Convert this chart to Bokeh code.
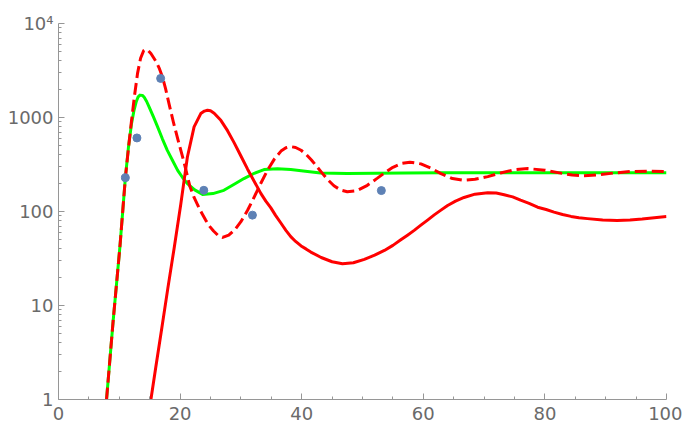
from bokeh.plotting import figure
from bokeh.models import FixedTicker
from bokeh.embed import file_html
from bokeh.resources import INLINE

# ---- data ----
green_x = [7.9, 9.0, 10.1, 11.0, 11.5, 12.0, 12.4, 12.8, 13.1, 13.4, 13.8, 14.1, 14.5,
           14.9, 15.6, 16.3, 17.1, 17.9, 18.8, 19.6, 20.4, 21.2, 22.4, 23.7, 25.4, 27.2,
           28.9, 30.5, 32.2, 33.8, 36.0, 38.2, 40.6, 43.1, 47.5, 52.0, 57.0, 63.0, 70.0,
           80.0, 90.0, 100.0]
green_y = [1, 7, 42, 229, 479, 851, 1175, 1480, 1660, 1730, 1718, 1640, 1480,
           1297, 1020, 794, 590, 447, 345, 274, 230, 198, 170, 152, 155, 168,
           195, 224, 255, 279, 285, 279, 268, 257, 253, 255, 257, 258, 259,
           258, 258, 258]

dash_x = [7.9, 9.0, 10.1, 11.0, 11.6, 12.0, 12.5, 13.0, 13.5, 14.0, 14.3, 14.7, 15.2,
          16.0, 16.6, 17.1, 17.6, 18.2, 18.9, 19.6, 20.7, 21.6, 22.3, 22.9, 23.6, 24.2,
          24.9, 25.5, 26.2, 27.0, 28.0, 29.0, 30.0, 31.1, 32.2, 33.3, 34.4, 35.5, 36.6,
          37.4, 38.2, 39.0, 39.9, 40.8, 41.6, 42.4, 43.2, 44.2, 45.3, 46.4, 47.5, 49.0,
          50.8, 52.4, 53.6, 55.0, 56.5, 57.8, 59.6, 61.2, 62.9, 64.8, 66.5, 68.5, 70.6,
          72.7, 75.0, 77.2, 80.0, 82.6, 84.5, 86.4, 89.0, 91.4, 94.0, 97.0, 100.0]
dash_y = [1, 7, 42, 229, 537, 912, 1700, 2950, 4270, 5130, 5300, 5190, 4790,
          3980, 3310, 2690, 2040, 1380, 890, 596, 324, 186, 141, 117, 95, 81,
          69, 62, 56, 53, 56, 64, 78, 103, 143, 201, 277, 361, 439,
          476, 490, 480, 448, 401, 353, 306, 264, 221, 188, 169, 162, 166,
          190, 225, 257, 295, 325, 335, 321, 290, 253, 224, 215, 220, 235,
          257, 278, 286, 275, 256, 244, 240, 246, 257, 266, 269, 266]

red_x = [15.2, 16.0, 17.0, 18.0, 19.0, 20.1, 21.2, 22.3, 23.4, 24.0, 24.5, 25.0, 25.6,
         26.7, 27.8, 28.9, 30.0, 31.1, 32.2, 33.3, 34.1, 34.9, 35.7, 36.6, 37.4, 38.2,
         39.0, 39.9, 40.7, 41.5, 43.2, 45.0, 46.7, 48.5, 50.3, 52.0, 53.6, 55.0, 56.3,
         57.4, 58.5, 59.6, 60.7, 61.8, 62.9, 64.0, 65.3, 66.7, 68.5, 70.6, 72.0, 73.3,
         74.7, 76.0, 77.4, 78.8, 80.2, 81.5, 82.9, 84.3, 85.6, 87.0, 89.5, 91.9, 94.0,
         96.0, 98.0, 100.0]
red_y = [1, 2.2, 5.8, 15.5, 40, 118, 380, 794, 1100, 1170, 1196, 1180, 1110,
         933, 724, 537, 389, 282, 209, 155, 129, 110, 91, 75, 63, 54,
         48, 43, 40, 37, 32.4, 29.2, 27.8, 28.5, 31, 34.3, 38.5, 43.6, 50,
         56, 63, 71.6, 81, 92, 103.5, 116, 129, 141, 153, 158.5, 157, 151,
         143, 132, 122, 111, 105, 98.6, 93, 88.7, 86, 84, 81, 80, 81,
         83, 85.7, 88.7]

pts_x = [11.0, 12.9, 16.8, 23.9, 31.9, 53.1]
pts_y = [229, 606, 2606, 168, 91.5, 167]

x_major = [0, 20, 40, 60, 80, 100]
x_minor = [5, 10, 15, 25, 30, 35, 45, 50, 55, 65, 70, 75, 85, 90, 95]
y_major = [1, 10, 100, 1000, 10000]
y_labels = ["1", "10", "100", "1000", "10\u2074"]
y_minor = [m * d for d in [1, 10, 100, 1000] for m in range(2, 10)]

FONT = "DejaVu Sans"
AXIS_C = "#969696"
LABEL_C = "#6a6a6a"

p = figure(width=682, height=425, y_axis_type="log", x_range=(0, 100), y_range=(1, 10000),
           output_backend="svg", toolbar_location=None,
           min_border_left=58, min_border_right=16, min_border_top=23, min_border_bottom=26)
p.outline_line_color = None
p.xgrid.visible = False
p.ygrid.visible = False
p.background_fill_color = "white"
p.border_fill_color = "white"

p.xaxis.ticker = FixedTicker(ticks=x_major, minor_ticks=x_minor)
p.yaxis.ticker = FixedTicker(ticks=y_major, minor_ticks=y_minor)
p.yaxis.major_label_overrides = {t: l for t, l in zip(y_major, y_labels)}

for ax in [p.xaxis[0], p.yaxis[0]]:
    ax.axis_line_color = AXIS_C
    ax.major_tick_line_color = AXIS_C
    ax.minor_tick_line_color = AXIS_C
    ax.major_tick_in = 6
    ax.major_tick_out = 0
    ax.minor_tick_in = 3
    ax.minor_tick_out = 0
    ax.major_label_text_font = FONT
    ax.major_label_text_font_size = "18px"
    ax.major_label_text_color = LABEL_C
p.xaxis[0].major_label_standoff = 7
p.yaxis[0].major_label_standoff = 5

p.line(green_x, green_y, line_color="#00ff00", line_width=3, line_join="round")
p.line(red_x, red_y, line_color="#ff0000", line_width=3, line_join="round")
p.line(dash_x, dash_y, line_color="#ff0000", line_width=3, line_dash="12 5", line_join="round")
p.scatter(pts_x, pts_y, size=8, fill_color="#5e81b5", line_color="#5e81b5")

open("out.html", "w").write(file_html(p, INLINE))
